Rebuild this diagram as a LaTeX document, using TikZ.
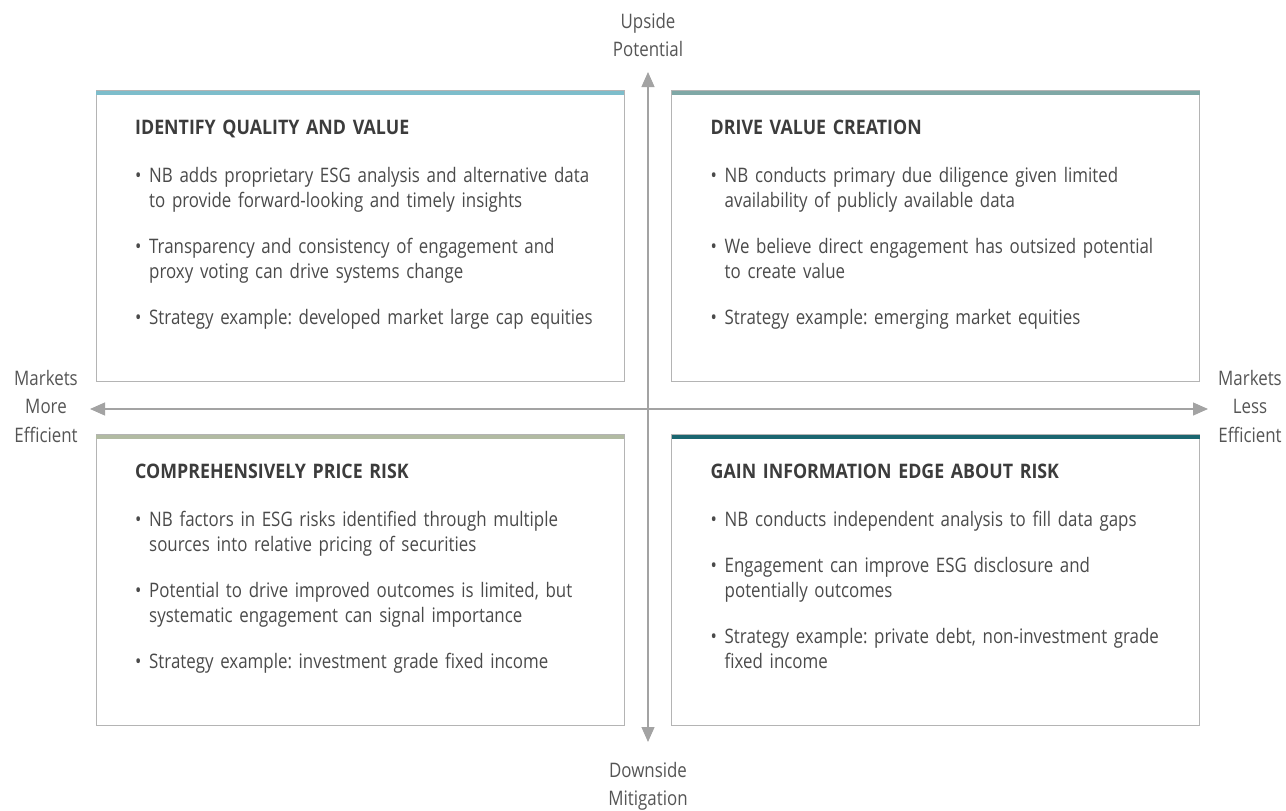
\documentclass[tikz,border=0pt]{standalone}
\usepackage{fontspec}
\setmainfont{Open Sans}[FakeStretch=0.845]
\newfontfamily\qheadfont{Open Sans}[FakeStretch=0.89]
\usetikzlibrary{arrows.meta, positioning}

\definecolor{tlblue}{HTML}{7DBDCB}
\definecolor{trteal}{HTML}{7FA8A6}
\definecolor{blsage}{HTML}{B2BBA3}
\definecolor{brteal}{HTML}{1A6670}
\definecolor{framegray}{HTML}{B4B4B4}
\definecolor{axisgray}{HTML}{A3A3A3}
\definecolor{headtext}{HTML}{3C3C3C}
\definecolor{bodytext}{HTML}{4A4A4A}
\definecolor{labeltext}{HTML}{555555}

\newcommand{\qfont}{\fontsize{20}{25}\selectfont\frenchspacing\hyphenpenalty=10000\relax}
\newcommand{\qhead}[1]{{\qheadfont\bfseries\color{headtext}#1}\par\vspace{23pt}}
\newcommand{\qitem}{\par\hangindent=14pt\hangafter=1\noindent\makebox[14pt][l]{\textbullet}}
\newcommand{\qgap}{\par\vspace{21pt}}

\begin{document}
\begin{tikzpicture}[
    x=1pt, y=-1pt,
    quad/.style={rectangle, draw=framegray, line width=1pt, minimum width=528pt, minimum height=291pt, inner sep=0pt, outer sep=0pt},
    topbar/.style={line width=4pt, draw=#1},
    qtext/.style={inner sep=0pt, text width=480pt, align=left, font=\qfont, text=bodytext},
    axis/.style={{Triangle[length=15pt, width=13pt]}-{Triangle[length=15pt, width=13pt]}, line width=1.2pt, draw=axisgray},
    axlabel/.style={font=\fontsize{20}{28.5}\selectfont, text=labeltext, align=center, inner sep=0pt}
]
\useasboundingbox (0,0) rectangle (1286,811);

% 1. quadrant frames
\node[quad] (tl) at (360,236) {};
\node[quad] (tr) at (935.5,236) {};
\node[quad] (bl) at (360,580) {};
\node[quad] (br) at (935.5,580) {};

\draw[topbar=tlblue] ([yshift=-2pt]tl.north west) -- ([yshift=-2pt]tl.north east);
\draw[topbar=trteal] ([yshift=-2pt]tr.north west) -- ([yshift=-2pt]tr.north east);
\draw[topbar=blsage] ([yshift=-2pt]bl.north west) -- ([yshift=-2pt]bl.north east);
\draw[topbar=brteal] ([yshift=-2pt]br.north west) -- ([yshift=-2pt]br.north east);

% 2. quadrant texts
\node[qtext, below right=29.5pt and 39pt of tl.north west] (tl_text) {
    \qhead{IDENTIFY QUALITY AND VALUE}
    \qitem NB adds proprietary ESG analysis and alternative data\newline to provide forward-looking and timely insights
    \qgap\qitem Transparency and consistency of engagement and\newline proxy voting can drive systems change
    \qgap\qitem Strategy example: developed market large cap equities\par
};
\node[qtext, below right=29.5pt and 39pt of tr.north west] (tr_text) {
    \qhead{DRIVE VALUE CREATION}
    \qitem NB conducts primary due diligence given limited\newline availability of publicly available data
    \qgap\qitem We believe direct engagement has outsized potential\newline to create value
    \qgap\qitem Strategy example: emerging market equities\par
};
\node[qtext, below right=29.5pt and 39pt of bl.north west] (bl_text) {
    \qhead{COMPREHENSIVELY PRICE RISK}
    \qitem NB factors in ESG risks identified through multiple\newline sources into relative pricing of securities
    \qgap\qitem Potential to drive improved outcomes is limited, but\newline systematic engagement can signal importance
    \qgap\qitem Strategy example: investment grade fixed income\par
};
\node[qtext, below right=29.5pt and 39pt of br.north west] (br_text) {
    \qhead{GAIN INFORMATION EDGE ABOUT RISK}
    \qitem NB conducts independent analysis to fill data gaps
    \qgap\qitem Engagement can improve ESG disclosure and\newline potentially outcomes
    \qgap\qitem Strategy example: private debt, non-investment grade\newline fixed income\par
};

% 3. axes
\coordinate (ax_top) at (648,72);
\coordinate (ax_bot) at (648,742);
\coordinate (ax_lft) at (90,409);
\coordinate (ax_rgt) at (1208,409);

\draw[axis] (ax_bot) -- (ax_top);
\draw[axis] (ax_lft) -- (ax_rgt);

% 4. axis labels
\node[axlabel, above=15pt of ax_top] (up) {Upside\\Potential};
\node[axlabel, below=20pt of ax_bot] (down) {Downside\\Mitigation};
\node[axlabel, left=12pt of ax_lft, yshift=3pt] (more) {Markets\\More\\Efficient};
\node[axlabel, right=10pt of ax_rgt, yshift=3pt] (less) {Markets\\Less\\Efficient};

\end{tikzpicture}
\end{document}
